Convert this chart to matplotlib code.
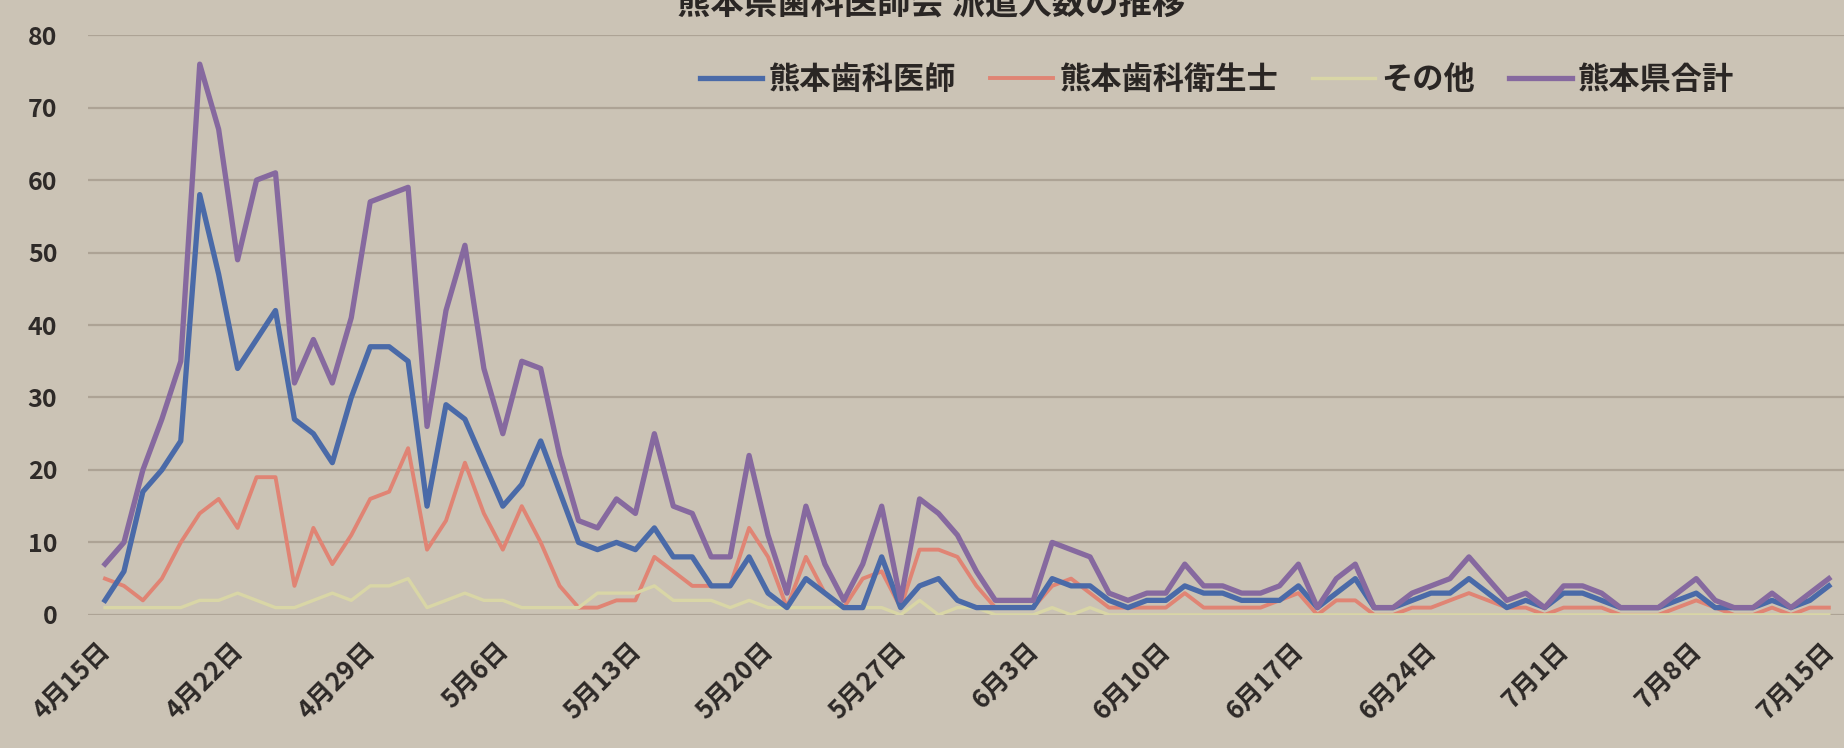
import numpy as np
import matplotlib
matplotlib.use("Agg")
import matplotlib.pyplot as plt

plt.rcParams['font.family'] = ['Noto Sans CJK JP', 'DejaVu Sans']

# x: days from 4/15 to 7/15 (92 days)
tick_labels = ['4月15日', '4月22日', '4月29日', '5月6日', '5月13日', '5月20日', '5月27日',
               '6月3日', '6月10日', '6月17日', '6月24日', '7月1日', '7月8日', '7月15日']

dentists = [2, 6, 17, 20, 24, 58, 47, 34, 38, 42,
            27, 25, 21, 30, 37, 37, 35, 15, 29, 27,
            21, 15, 18, 24, 17, 10, 9, 10, 9, 12,
            8, 8, 4, 4, 8, 3, 1, 5, 3, 1,
            1, 8, 1, 4, 5, 2, 1, 1, 1, 1,
            5, 4, 4, 2, 1, 2, 2, 4, 3, 3,
            2, 2, 2, 4, 1, 3, 5, 1, 1, 2,
            3, 3, 5, 3, 1, 2, 1, 3, 3, 2,
            1, 1, 1, 2, 3, 1, 1, 1, 2, 1,
            2, 4]
hygienists = [5, 4, 2, 5, 10, 14, 16, 12, 19, 19,
              4, 12, 7, 11, 16, 17, 23, 9, 13, 21,
              14, 9, 15, 10, 4, 1, 1, 2, 2, 8,
              6, 4, 4, 4, 12, 8, 1, 8, 3, 1,
              5, 6, 1, 9, 9, 8, 4, 1, 1, 1,
              4, 5, 3, 1, 1, 1, 1, 3, 1, 1,
              1, 1, 2, 3, 0, 2, 2, 0, 0, 1,
              1, 2, 3, 2, 1, 1, 0, 1, 1, 1,
              0, 0, 0, 1, 2, 1, 0, 0, 1, 0,
              1, 1]
others = [1, 1, 1, 1, 1, 2, 2, 3, 2, 1,
          1, 2, 3, 2, 4, 4, 5, 1, 2, 3,
          2, 2, 1, 1, 1, 1, 3, 3, 3, 4,
          2, 2, 2, 1, 2, 1, 1, 1, 1, 1,
          1, 1, 0, 2, 0, 1, 1, 0, 0, 0,
          1, 0, 1, 0, 0, 0, 0, 0, 0, 0,
          0, 0, 0, 0, 0, 0, 0, 0, 0, 0,
          0, 0, 0, 0, 0, 0, 0, 0, 0, 0,
          0, 0, 0, 0, 0, 0, 0, 0, 0, 0,
          0, 0]
total = [7, 10, 20, 27, 35, 76, 67, 49, 60, 61,
         32, 38, 32, 41, 57, 58, 59, 26, 42, 51,
         34, 25, 35, 34, 22, 13, 12, 16, 14, 25,
         15, 14, 8, 8, 22, 11, 3, 15, 7, 2,
         7, 15, 2, 16, 14, 11, 6, 2, 2, 2,
         10, 9, 8, 3, 2, 3, 3, 7, 4, 4,
         3, 3, 4, 7, 1, 5, 7, 1, 1, 3,
         4, 5, 8, 5, 2, 3, 1, 4, 4, 3,
         1, 1, 1, 3, 5, 2, 1, 1, 3, 1,
         3, 5]

x = np.arange(len(total))
bg = '#cbc3b5'

fig = plt.figure(figsize=(18.44, 7.48), dpi=100, facecolor=bg)
ax = fig.add_axes([0.0477, 0.178, 0.9523, 0.775], facecolor=bg)

ax.plot(x, dentists, color='#4a6aa8', lw=3.8, label='熊本歯科医師', zorder=3)
ax.plot(x, hygienists, color='#e08474', lw=2.8, label='熊本歯科衛生士', zorder=2)
ax.plot(x, others, color='#d9d6a6', lw=2.4, label='その他', zorder=2)
ax.plot(x, total, color='#86699f', lw=3.8, label='熊本県合計', zorder=4)

ax.set_xlim(-0.9, 91.8)
ax.set_ylim(0, 80)
ax.set_yticks(range(0, 81, 10))
ticks = list(range(0, 92, 7))
ax.set_xticks(ticks)
ax.set_xticklabels([])
# rotated date labels, nudged a little left so the last one stays inside
for t, lab in zip(ticks, tick_labels):
    ax.annotate(lab, xy=(t, 0), xycoords=('data', 'axes fraction'),
                xytext=(-6, -16), textcoords='offset points',
                rotation=45, ha='right', va='top', rotation_mode='anchor',
                fontsize=18.5, fontweight='bold', color='#2e2a28', annotation_clip=False)
for lab in ax.get_yticklabels():
    lab.set_fontsize(18)
    lab.set_fontweight('bold')
    lab.set_color('#2e2a28')
ax.tick_params(axis='x', length=0)
ax.tick_params(axis='y', length=0, pad=22)
ax.grid(axis='y', color='#ada395', lw=1.6)
ax.set_axisbelow(True)
for s in ax.spines.values():
    s.set_visible(False)

leg = fig.legend(loc='center', bbox_to_anchor=(0.66, 0.893), ncol=4, frameon=False,
                 handlelength=2.0, handletextpad=0.2, columnspacing=1.1,
                 prop={'weight': 'bold', 'size': 22.5})
for t in leg.get_texts():
    t.set_color('#2a2624')

fig.text(0.505, 0.995, '熊本県歯科医師会 派遣人数の推移', ha='center', va='center',
         fontsize=24, fontweight='bold', color='#2a2624')

fig.savefig('out.png', dpi=100, facecolor=bg)
